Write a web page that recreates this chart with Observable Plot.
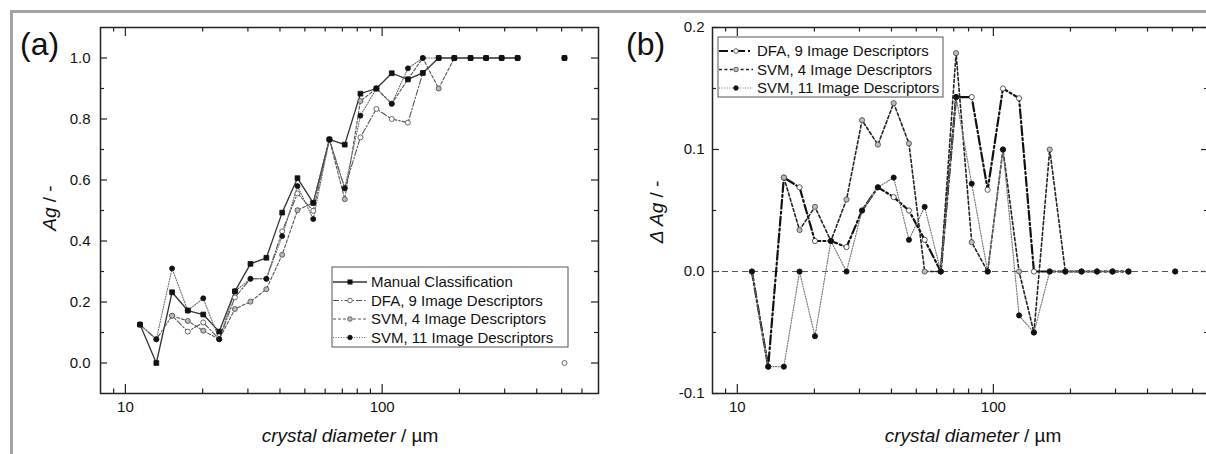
<!DOCTYPE html>
<html><head><meta charset="utf-8">
<script src="https://cdn.jsdelivr.net/npm/d3@7"></script>
<script src="https://cdn.jsdelivr.net/npm/@observablehq/plot@0.6"></script>
<style>
html,body{margin:0;padding:0;background:#fff;overflow:hidden;width:1206px;height:454px}
#wrap{position:relative;width:1206px;height:454px;font-family:"Liberation Sans",Arial,sans-serif;overflow:hidden}
#border{position:absolute;left:10px;top:10px;width:1300px;height:600px;border:3px solid #a3a3a3;box-sizing:border-box}
.panel{position:absolute;top:0;height:454px}
</style></head>
<body><div id="wrap"><div id="border"></div>
<div id="pa" class="panel" style="left:0;width:600px"></div>
<div id="pb" class="panel" style="left:606px;width:604px"></div></div>
<script>
// ---- data ----
const diameter = [11.4, 13.2, 15.2, 17.5, 20.1, 23.2, 26.7, 30.7, 35.4, 40.8, 46.8, 53.9, 62.3, 71.5, 82.3, 95.0, 109, 126, 144, 166, 191, 221, 254, 292, 337, 513];
const run      = [1,1,1,1,1,1,1,1,1,1,1,1,1,1,1,1,1,1,1,1,1,1,1,1,1,2];
const manual = [0.126, 0.000, 0.232, 0.172, 0.159, 0.103, 0.235, 0.325, 0.345, 0.493, 0.606, 0.525, 0.733, 0.716, 0.883, 0.900, 0.950, 0.930, 0.951, 1, 1, 1, 1, 1, 1, 1];
const dfa    = [0.126, 0.078, 0.155, 0.103, 0.133, 0.078, 0.215, 0.276, 0.276, 0.432, 0.556, 0.499, 0.733, 0.573, 0.740, 0.833, 0.800, 0.788, 0.951, 1, 1, 1, 1, 1, 1, 0.0];
const svm4   = [null, null, 0.155, 0.138, 0.106, 0.078, 0.177, 0.201, 0.242, 0.355, 0.501, 0.525, 0.733, 0.537, 0.859, 0.900, 0.850, 0.930, 1.0, 0.900, 1, 1, 1, 1, 1, 1];
const svm11  = [0.126, 0.078, 0.310, 0.172, 0.212, 0.078, 0.235, 0.276, 0.276, 0.416, 0.580, 0.472, 0.733, 0.573, 0.811, 0.900, 0.850, 0.966, 1.0, 1.0, 1, 1, 1, 1, 1, 1];
const dDfa   = [0, -0.078, 0.077, 0.069, 0.025, 0.025, 0.020, 0.050, 0.069, 0.061, 0.050, 0.026, 0, 0.143, 0.143, 0.067, 0.150, 0.142, 0, 0, 0, 0, 0, 0, 0, null];
const dSvm4  = [null, null, 0.077, 0.034, 0.053, 0.025, 0.059, 0.124, 0.104, 0.138, 0.105, 0, 0, 0.179, 0.024, 0, 0.100, 0, -0.050, 0.100, 0, 0, 0, 0, 0, 0];
const dSvm11 = [0, -0.078, -0.078, 0, -0.053, 0.025, 0, 0.050, 0.069, 0.077, 0.026, 0.053, 0, 0.143, 0.072, 0, 0.100, -0.036, -0.050, 0, 0, 0, 0, 0, 0, 0];

const xMajor = [10, 100];
const xMinor = [9, 20, 30, 40, 50, 60, 70, 80, 90, 200, 300, 400, 500, 600];
const yMajorA = [0, 0.2, 0.4, 0.6, 0.8, 1.0];
const yMinorA = [0.1, 0.3, 0.5, 0.7, 0.9];
const yMajorB = [-0.1, 0, 0.1, 0.2];
const yMinorB = [-0.05, 0.05, 0.15];
const namesA = ["Manual Classification", "DFA, 9 Image Descriptors", "SVM, 4 Image Descriptors", "SVM, 11 Image Descriptors"];
const namesB = ["DFA, 9 Image Descriptors", "SVM, 4 Image Descriptors", "SVM, 11 Image Descriptors"];

const rows = diameter.map((d, i) => ({d, run: run[i], manual: manual[i], dfa: dfa[i], svm4: svm4[i], svm11: svm11[i],
  dDfa: dDfa[i], dSvm4: dSvm4[i], dSvm11: dSvm11[i]}));

// ---- styles ----
const FONT = "'Liberation Sans', Arial, sans-serif";
const stA = [
  {key: "manual", stroke: "#333", w: 1.3, dash: null, sym: "square", r: 2.7, fill: "#111", ms: "#111"},
  {key: "dfa", stroke: "#555", w: 1.1, dash: "6,2,1.5,2", sym: "circle", r: 2.5, fill: "#fff", ms: "#444"},
  {key: "svm4", stroke: "#555", w: 1.1, dash: "3,2", sym: "circle", r: 2.5, fill: "#bbb", ms: "#444"},
  {key: "svm11", stroke: "#666", w: 1.1, dash: "1,1.6", sym: "circle", r: 2.5, fill: "#111", ms: "#111"}
];
const stB = [
  {key: "dDfa", stroke: "#111", w: 2.2, dash: "9,3,2,3", sym: "circle", r: 2.6, fill: "#fff", ms: "#333"},
  {key: "dSvm4", stroke: "#222", w: 1.6, dash: "3,2.4", sym: "circle", r: 2.6, fill: "#bbb", ms: "#444"},
  {key: "dSvm11", stroke: "#777", w: 1.2, dash: "1,1.6", sym: "circle", r: 2.6, fill: "#111", ms: "#111"}
];
const fmtX = d => String(d);
const fmtY = d => d.toFixed(1);
const H = 454, MT = 27, MB = 61;
const innerH = H - MT - MB;

function axes(yMajor, yMinor, yPad, innerW) {
  const t = {stroke: "#222", strokeWidth: 1.2};
  return [
    Plot.axisX({ticks: xMajor, tickSize: 0, tickPadding: 8, tickFormat: fmtX, fontSize: 15, label: null, fill: "#111"}),
    Plot.axisY({ticks: yMajor, tickSize: 0, tickPadding: yPad, tickFormat: fmtY, fontSize: 15, label: null, fill: "#111"}),
    // inward ticks on all four sides
    Plot.tickX(xMajor, {...t, x: d => d, insetTop: innerH - 9}),
    Plot.tickX(xMinor, {...t, x: d => d, insetTop: innerH - 4.5}),
    Plot.tickX(xMajor, {...t, x: d => d, insetBottom: innerH - 9}),
    Plot.tickX(xMinor, {...t, x: d => d, insetBottom: innerH - 4.5}),
    Plot.tickY(yMajor, {...t, y: d => d, insetRight: innerW - 7}),
    Plot.tickY(yMinor, {...t, y: d => d, insetRight: innerW - 4}),
    Plot.tickY(yMajor, {...t, y: d => d, insetLeft: innerW - 7}),
    Plot.tickY(yMinor, {...t, y: d => d, insetLeft: innerW - 4})
  ];
}
function seriesMarks(st, dotOrder) {
  return [
    ...st.map(s => Plot.line(rows, {x: "d", y: s.key, z: "run", stroke: s.stroke, strokeWidth: s.w, strokeDasharray: s.dash})),
    ...dotOrder.map(i => st[i]).map(s => Plot.dot(rows, {x: "d", y: s.key, symbol: s.sym, r: s.r, fill: s.fill, stroke: s.ms, strokeWidth: 0.8}))
  ];
}
function legend(svg, names, st, box, rowY, x0, fs) {
  const g = d3.select(svg).append("g").attr("text-anchor", "start");
  g.append("rect").attr("x", box[0]).attr("y", box[1]).attr("width", box[2]).attr("height", box[3])
    .attr("fill", "#fff").attr("stroke", "#555").attr("stroke-width", 1);
  names.forEach((n, i) => {
    const s = st[i], y = rowY[i];
    g.append("line").attr("x1", x0).attr("x2", x0 + 34).attr("y1", y).attr("y2", y)
      .attr("stroke", s.stroke).attr("stroke-width", s.w).attr("stroke-dasharray", s.dash);
    if (s.sym === "square") g.append("rect").attr("x", x0 + 17 - 2.5).attr("y", y - 2.5).attr("width", 5).attr("height", 5).attr("fill", s.fill);
    else g.append("circle").attr("cx", x0 + 17).attr("cy", y).attr("r", 2.3).attr("fill", s.fill).attr("stroke", s.ms).attr("stroke-width", 0.8);
    g.append("text").attr("x", x0 + 38).attr("y", y).attr("dy", "0.36em").attr("font-size", fs).attr("fill", "#111")
      .attr("font-family", FONT).attr("text-anchor", "start").text(n);
  });
}
function labels(svg, letter, xc, yl, ylText) {
  const s = d3.select(svg);
  s.append("text").attr("x", 20).attr("y", 55).attr("text-anchor", "start").attr("font-size", 32)
    .attr("font-family", FONT).attr("fill", "#111").text(letter);
  const xt = s.append("text").attr("x", xc).attr("y", 442).attr("text-anchor", "middle").attr("font-size", 19)
    .attr("font-family", FONT).attr("fill", "#111");
  xt.append("tspan").attr("font-style", "italic").text("crystal diameter");
  xt.append("tspan").text(" / \u00b5m");
  const yt = s.append("text").attr("transform", `translate(${yl[0]},${yl[1]}) rotate(-90)`).attr("text-anchor", "middle")
    .attr("font-size", 19).attr("font-family", FONT).attr("fill", "#111");
  yt.append("tspan").attr("font-style", "italic").text(ylText);
  yt.append("tspan").text(" / -");
}

const common = {height: H, marginTop: MT, marginBottom: MB, style: {background: "transparent", maxWidth: "none", overflow: "visible", fontFamily: FONT}};

// Panel (a)
const WA = 600, MLA = 100, MRA = 2;
const A = Plot.plot({
  ...common, width: WA, marginLeft: MLA, marginRight: MRA,
  x: {type: "log", domain: [8, 696]},
  y: {domain: [-0.1, 1.1]},
  marks: [...axes(yMajorA, yMinorA, 10, WA - MLA - MRA), ...seriesMarks(stA, [1, 2, 3, 0]), Plot.frame({stroke: "#222", strokeWidth: 1.5})]
});
document.getElementById("pa").appendChild(A);
legend(A, namesA, stA, [332, 267, 236, 80], [282, 300.5, 319, 337.5], 333, 15);
labels(A, "(a)", 350, [56, 208], "Ag");

// Panel (b)
const WB = 604, MLB = 106, MRB = 2;
const B = Plot.plot({
  ...common, width: WB, marginLeft: MLB, marginRight: MRB,
  x: {type: "log", domain: [8, 692]},
  y: {domain: [-0.1, 0.2]},
  marks: [...axes(yMajorB, yMinorB, 8, WB - MLB - MRB), Plot.ruleY([0], {stroke: "#555", strokeWidth: 1, strokeDasharray: "6,4"}),
    ...seriesMarks(stB, [0, 1, 2]), Plot.frame({stroke: "#222", strokeWidth: 1.5})]
});
document.getElementById("pb").appendChild(B);
legend(B, namesB, stB, [112, 37, 225, 60], [51, 69.5, 88], 113, 15);
labels(B, "(b)", 367, [57, 212], "\u0394 Ag");
</script></body></html>
